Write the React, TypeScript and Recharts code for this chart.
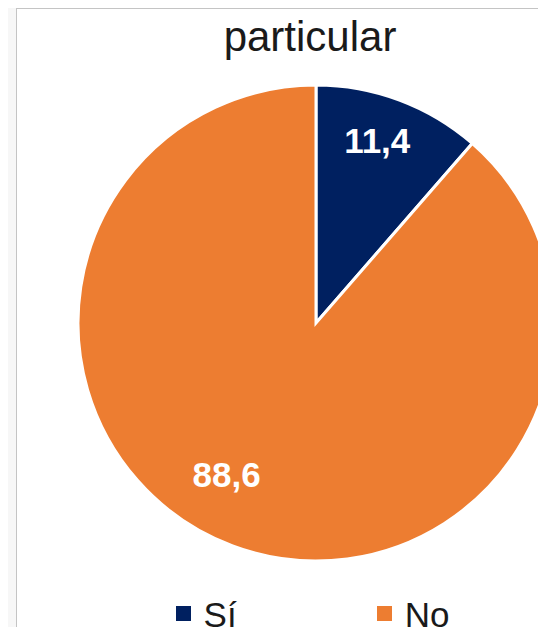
import React from "react";
import { PieChart, Pie, Cell, Legend } from "recharts";

const categories = ["Sí", "No"];
const values = [11.4, 88.6];
const valueLabels = ["11,4", "88,6"];
const colors = ["#002060", "#ED7D31"];
const titleText = "particular";

const data = categories.map((name, i) => ({ name, value: values[i], label: valueLabels[i] }));

const RAD = Math.PI / 180;
const labelRadius = [0.81, 0.74];
const labelAngleShift = [2, -10];

const renderLabel = (props: any) => {
  const { cx, cy, midAngle, outerRadius, index } = props;
  const r = outerRadius * labelRadius[index];
  const a = (midAngle + labelAngleShift[index]) * RAD;
  const x = cx + r * Math.cos(a);
  const y = cy - r * Math.sin(a);
  return (
    <text
      x={x}
      y={y}
      fill="#ffffff"
      textAnchor="middle"
      dominantBaseline="central"
      style={{ fontFamily: "'Liberation Sans', Arial, sans-serif", fontWeight: 700, fontSize: 35 }}
    >
      {data[index].label}
    </text>
  );
};

const renderLegend = () => {
  return (
    <div style={{ display: "flex", justifyContent: "center", alignItems: "center", fontFamily: "'Liberation Sans', Arial, sans-serif" }}>
      {data.map((entry, i) => (
        <div key={entry.name} style={{ display: "flex", alignItems: "center", marginRight: i === 0 ? 140 : 0 }}>
          <div style={{ width: 15, height: 15, background: colors[i], marginRight: 13, marginBottom: 4 }} />
          <span style={{ fontSize: 35, color: "#1a1a1a", lineHeight: "30px" }}>{entry.name}</span>
        </div>
      ))}
    </div>
  );
};

export default function App() {
  return (
    <div style={{ margin: -8, width: 546, height: 635, position: "relative", overflow: "hidden", background: "#f7f7f7" }}>
      <div
        style={{
          position: "absolute",
          left: 16,
          top: 8,
          width: 560,
          height: 660,
          background: "#ffffff",
          border: "1px solid #c4c4c4",
        }}
      />
      <div
        style={{
          position: "absolute",
          left: 190,
          top: -41,
          fontFamily: "'Liberation Sans', Arial, sans-serif",
          fontSize: 42,
          color: "#1a1a1a",
          lineHeight: "48px",
        }}
      >
        y
      </div>
      <div
        style={{
          position: "absolute",
          left: 0,
          width: 620,
          top: 13,
          textAlign: "center",
          fontFamily: "'Liberation Sans', Arial, sans-serif",
          fontSize: 42,
          color: "#1a1a1a",
          lineHeight: "48px",
        }}
      >
        {titleText}
      </div>
      <div style={{ position: "absolute", left: 0, top: 0 }}>
        <PieChart width={546} height={635} margin={{ top: 0, right: 0, bottom: 0, left: 0 }}>
          <Pie
            data={data}
            dataKey="value"
            nameKey="name"
            cx={316}
            cy={323}
            outerRadius={238}
            startAngle={90}
            endAngle={-270}
            stroke="#ffffff"
            strokeWidth={3}
            label={renderLabel}
            labelLine={false}
            isAnimationActive={false}
          >
            {data.map((d, i) => (
              <Cell key={d.name} fill={colors[i]} />
            ))}
          </Pie>
          <Legend
            content={renderLegend}
            verticalAlign="bottom"
            wrapperStyle={{ bottom: 5, left: 0, width: 625 }}
          />
        </PieChart>
      </div>
    </div>
  );
}
